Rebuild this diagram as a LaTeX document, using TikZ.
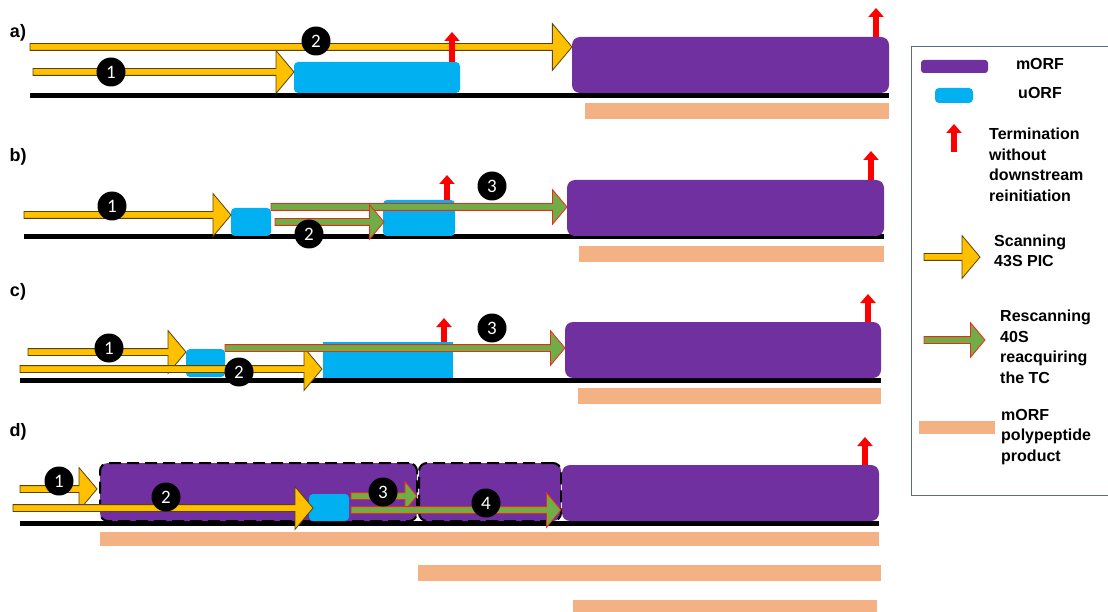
\documentclass[tikz,border=0pt]{standalone}
\usepackage{fontspec}
\setmainfont{Liberation Sans}
\newfontfamily\numfont{Carlito}
\usetikzlibrary{shapes.arrows,arrows.meta,calc}

\definecolor{morfcol}{HTML}{7030A0}
\definecolor{uorfcol}{HTML}{00B0F0}
\definecolor{polycol}{HTML}{F4B183}
\definecolor{scanfill}{HTML}{FFC000}
\definecolor{scanline}{HTML}{5A4300}
\definecolor{rescanfill}{HTML}{70AD47}
\definecolor{rescanline}{HTML}{F02818}
\definecolor{keyline}{HTML}{5B6A8C}

\tikzset{
  mrna/.style={line width=5pt},
  morf/.style={fill=morfcol, rounded corners=8pt, inner sep=0pt, outer sep=0pt},
  uorf/.style={fill=uorfcol, rounded corners=4pt, inner sep=0pt, outer sep=0pt},
  poly/.style={fill=polycol, inner sep=0pt, outer sep=0pt},
  frameshift/.style={morf, draw=black, line width=2pt, dash pattern=on 12pt off 6pt},
  scan/.style={single arrow, draw=scanline, fill=scanfill, line width=0.8pt,
    inner sep=0pt, inner ysep=3pt, minimum width=0pt, outer sep=0pt,
    single arrow head extend=18pt, single arrow tip angle=100},
  rescan/.style={scan, draw=rescanline, fill=rescanfill, single arrow head extend=14pt},
  term/.style={draw=red, line width=6pt, -{Triangle[length=9pt,width=15pt]}},
  num/.style={circle, fill=black, text=white, minimum size=29pt, inner sep=0pt,
    font=\numfont\fontsize{19}{19}\selectfont},
  panel/.style={font=\bfseries\fontsize{18}{18}\selectfont},
  keytext/.style={anchor=west, align=left, inner sep=0pt,
    font=\bfseries\fontsize{16}{20.5}\selectfont}
}

% block arrow from tail to tip: style, name, tail, tip
\newcommand{\blockarrow}[4]{%
  \path let \p1=#3, \p2=#4 in node[#1, minimum height={\x2-\x1}, anchor=tip] (#2) at (\p2) {};}

\begin{document}
\begin{tikzpicture}[x=1pt,y=-1pt]
\useasboundingbox (0,0) rectangle (1108,612);

% a) leaky scanning past the uORF
\path (18,33) node[panel] (labA) {a)};
\draw[mrna] (30,96) -- (889,96);
\path (377,77.5) node[uorf, minimum width=166pt, minimum height=31pt] (uorfA) {};
\path (730.5,65) node[morf, minimum width=317pt, minimum height=56pt] (morfA) {};
\path (737,111) node[poly, minimum width=304pt, minimum height=16pt] (polyA) {};
\blockarrow{scan, single arrow head extend=20pt}{scanA2}{(30,47)}{(572,47)}
\blockarrow{scan}{scanA1}{(33,72)}{(294,72)}
\draw[term] ([xshift=-8]uorfA.north east) -- ++(0,-30);
\draw[term] ([xshift=-13]morfA.north east) -- ++(0,-29);
\path (111,72) node[num] (nA1) {1};
\path (316,41) node[num] (nA2) {2};

% b) reinitiation after a short uORF
\path (18,157) node[panel] (labB) {b)};
\draw[mrna] (24,237) -- (884,237);
\path (251,222) node[uorf, minimum width=40pt, minimum height=28pt] (uorfB1) {};
\path (419,218) node[uorf, minimum width=72pt, minimum height=36pt] (uorfB2) {};
\path (725.5,208) node[morf, minimum width=317pt, minimum height=56pt] (morfB) {};
\path (731.5,254) node[poly, minimum width=305pt, minimum height=16pt] (polyB) {};
\blockarrow{scan}{scanB1}{(24,215)}{(231,215)}
\blockarrow{rescan}{rescanB3}{(271,207)}{(567,207)}
\blockarrow{rescan}{rescanB2}{(275,222)}{(384,222)}
\draw[term] ([xshift=-8]uorfB2.north east) -- ++(0,-25);
\draw[term] ([xshift=-13]morfB.north east) -- ++(0,-29);
\path (112,206) node[num] (nB1) {1};
\path (309,234) node[num] (nB2) {2};
\path (492,186) node[num] (nB3) {3};

% c) second start codon reached by leaky scanning
\path (18,292) node[panel] (labC) {c)};
\draw[mrna] (20,380) -- (881,380);
\path (205.5,363) node[uorf, minimum width=39pt, minimum height=28pt] (uorfC1) {};
\path (388,360) node[uorf, rounded corners=0pt, minimum width=130pt, minimum height=36pt] (uorfC2) {};
\path (723,350) node[morf, minimum width=316pt, minimum height=56pt] (morfC) {};
\path (729.5,396) node[poly, minimum width=303pt, minimum height=16pt] (polyC) {};
\blockarrow{scan}{scanC1}{(28,352)}{(186,352)}
\blockarrow{scan}{scanC2}{(20,369)}{(322,369)}
\blockarrow{rescan}{rescanC3}{(225,348)}{(565,348)}
\draw[term] ([xshift=-9]uorfC2.north east) -- ++(0,-24);
\draw[term] ([xshift=-13]morfC.north east) -- ++(0,-28);
\path (109,348) node[num] (nC1) {1};
\path (239,372) node[num] (nC2) {2};
\path (492,328) node[num] (nC3) {3};

% d) N-terminally extended products
\path (18,432) node[panel] (labD) {d)};
\draw[mrna] (20,523) -- (879,523);
\path (258.5,492) node[frameshift, minimum width=317pt, minimum height=58pt] (morfD1) {};
\path (490,492) node[frameshift, minimum width=142pt, minimum height=58pt] (morfD2) {};
\path (720.5,493) node[morf, minimum width=317pt, minimum height=56pt] (morfD3) {};
\path (329,507.5) node[uorf, minimum width=40pt, minimum height=27pt] (uorfD) {};
\path (489.5,539) node[poly, minimum width=779pt, minimum height=14pt] (polyD1) {};
\path (649.5,573) node[poly, minimum width=463pt, minimum height=16pt] (polyD2) {};
\path (725,607) node[poly, minimum width=304pt, minimum height=15pt] (polyD3) {};
\blockarrow{scan}{scanD1}{(20,489)}{(97,489)}
\blockarrow{scan}{scanD2}{(13,508)}{(313,508)}
\blockarrow{rescan, single arrow head extend=11pt}{rescanD3}{(351,496)}{(417,496)}
\blockarrow{rescan}{rescanD4}{(351,510)}{(561,510)}
\draw[term] ([xshift=-14]morfD3.north east) -- ++(0,-28);
\path (59,481) node[num] (nD1) {1};
\path (166,497) node[num] (nD2) {2};
\path (383,492) node[num] (nD3) {3};
\path (486,503) node[num] (nD4) {4};

% key
\draw[keyline, line width=1pt] (911,47) rectangle (1112,495);
\path (954.5,66.5) node[morf, rounded corners=3pt, minimum width=67pt, minimum height=13pt] (keyMorf) {};
\path (1040,64) node[keytext, anchor=center] (txtMorf) {mORF};
\path (954,95.5) node[uorf, minimum width=38pt, minimum height=15pt] (keyUorf) {};
\path (1040,93) node[keytext, anchor=center] (txtUorf) {uORF};
\coordinate (keyTerm) at (954,152);
\draw[term] (keyTerm) -- ++(0,-28);
\path (989,165) node[keytext] (txtTerm) {Termination\\without\\downstream\\reinitiation};
\blockarrow{scan}{keyScan}{(924,257)}{(980,257)}
\path (994,251) node[keytext] (txtScan) {Scanning\\43S PIC};
\blockarrow{rescan}{keyRescan}{(924,340)}{(985,340)}
\path (1000,347) node[keytext] (txtRescan) {Rescanning\\40S\\reacquiring\\the TC};
\path (957,427.5) node[poly, minimum width=76pt, minimum height=13pt] (keyPoly) {};
\path (1001,437) node[keytext] (txtPoly) {mORF\\polypeptide\\product};
\end{tikzpicture}
\end{document}
